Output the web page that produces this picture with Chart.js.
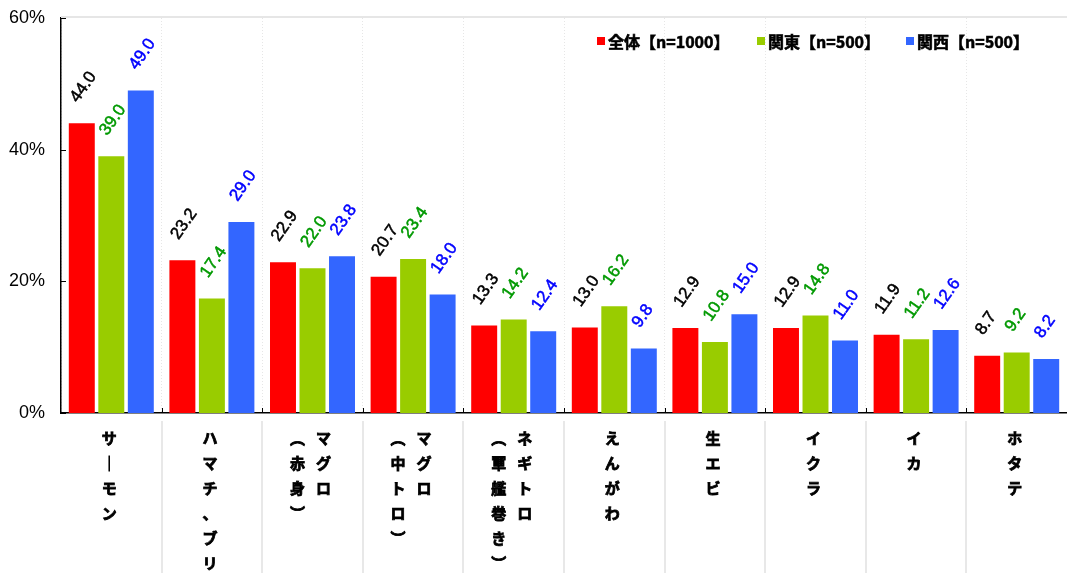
<!DOCTYPE html>
<html>
<head>
<meta charset="utf-8">
<script src="https://cdn.jsdelivr.net/npm/chart.js@4.4.1/dist/chart.umd.min.js"></script>
<style>
  body { margin: 0; background: #fff; }
  #chart { display: block; }
</style>
</head>
<body>
<canvas id="chart" width="1067" height="573"></canvas>
<script>
// カテゴリ（縦書き、列ごと：右の列から）
const categories = [
    ['サーモン'],
    ['ハマチ、ブリ'],
    ['マグロ', '（赤身）'],
    ['マグロ', '（中トロ）'],
    ['ネギトロ', '（軍艦巻き）'],
    ['えんがわ'],
    ['生エビ'],
    ['イクラ'],
    ['イカ'],
    ['ホタテ']
];
const seriesNames = ['全体【n=1000】', '関東【n=500】', '関西【n=500】'];
const zentai = [44.0, 23.2, 22.9, 20.7, 13.3, 13.0, 12.9, 12.9, 11.9, 8.7];
const kanto = [39.0, 17.4, 22.0, 23.4, 14.2, 16.2, 10.8, 14.8, 11.2, 9.2];
const kansai = [49.0, 29.0, 23.8, 18.0, 12.4, 9.8, 15.0, 11.0, 12.6, 8.2];
const yTicks = [0, 20, 40, 60];

const barColors = ['#ff0000', '#99cc00', '#3366ff'];
const labelColors = ['#000000', '#009900', '#0000ff'];
const cjkFont = '"Noto Sans CJK JP", "Noto Sans", sans-serif';

// 縦書き用に括弧などを変換
function toVertical(ch) {
    if (ch === '（') return '︵';
    if (ch === '）') return '︶';
    if (ch === 'ー') return '｜';
    return ch;
}

// 太字を少し強調して描く
function boldText(ctx, text, x, y) {
    ctx.strokeText(text, x, y);
    ctx.fillText(text, x, y);
}

const customDraw = {
    id: 'customDraw',
    afterDraw(chart) {
        const ctx = chart.ctx;
        const area = chart.chartArea;
        const xs = chart.scales.x;
        const ys = chart.scales.y;
        const step = xs.getPixelForValue(1) - xs.getPixelForValue(0);

        ctx.save();
        // 上端の線
        ctx.strokeStyle = '#e6e6e6';
        ctx.lineWidth = 2;
        ctx.beginPath();
        ctx.moveTo(area.left, area.top - 1);
        ctx.lineTo(area.right, area.top - 1);
        ctx.stroke();

        // 軸の目盛り（内向き）
        ctx.strokeStyle = '#000';
        ctx.lineWidth = 1;
        yTicks.forEach(v => {
            const y = Math.round(ys.getPixelForValue(v)) + 0.5;
            ctx.beginPath();
            ctx.moveTo(area.left, y);
            ctx.lineTo(area.left + 5, y);
            ctx.stroke();
        });
        for (let i = 0; i < categories.length - 1; i++) {
            const x = Math.round(xs.getPixelForValue(i) + step / 2) + 0.5;
            ctx.beginPath();
            ctx.moveTo(x, area.bottom);
            ctx.lineTo(x, area.bottom - 5);
            ctx.stroke();
        }

        // カテゴリ区切り線（軸の下）
        ctx.strokeStyle = '#e8e8e8';
        ctx.lineWidth = 2;
        for (let i = 0; i < categories.length - 1; i++) {
            const x = Math.round(xs.getPixelForValue(i) + step / 2);
            ctx.beginPath();
            ctx.moveTo(x, area.bottom + 8);
            ctx.lineTo(x, chart.height);
            ctx.stroke();
        }

        // カテゴリラベル（縦書き）
        ctx.fillStyle = '#000';
        ctx.strokeStyle = '#000';
        ctx.lineWidth = 0.8;
        ctx.font = 'bold 15px ' + cjkFont;
        ctx.textAlign = 'center';
        ctx.textBaseline = 'middle';
        categories.forEach((cols, i) => {
            const cx = xs.getPixelForValue(i) - 2;
            const n = cols.length;
            cols.forEach((col, j) => {
                const x = cx + ((n - 1) / 2 - j) * 26;
                Array.from(col).forEach((ch, k) => {
                    boldText(ctx, toVertical(ch), x, area.bottom + 25 + k * 25);
                });
            });
        });

        // 値ラベル（斜め）
        ctx.font = '17px "Liberation Sans", Arial, sans-serif';
        ctx.textAlign = 'left';
        ctx.textBaseline = 'alphabetic';
        ctx.lineWidth = 0.5;
        chart.data.datasets.forEach((ds, d) => {
            const meta = chart.getDatasetMeta(d);
            ctx.fillStyle = labelColors[d];
            ctx.strokeStyle = labelColors[d];
            meta.data.forEach((bar, i) => {
                ctx.save();
                ctx.translate(bar.x - 4, bar.y - 20);
                ctx.rotate(-55 * Math.PI / 180);
                boldText(ctx, ds.data[i].toFixed(1), 0, 0);
                ctx.restore();
            });
        });

        // 凡例
        const legendX = [597, 757, 906];
        ctx.font = 'bold 16px ' + cjkFont;
        ctx.textBaseline = 'middle';
        ctx.strokeStyle = '#000';
        ctx.lineWidth = 0.6;
        seriesNames.forEach((name, d) => {
            ctx.fillStyle = barColors[d];
            ctx.fillRect(legendX[d], 37, 8, 8);
            ctx.fillStyle = '#000';
            boldText(ctx, name, legendX[d] + 11, 42);
        });
        ctx.restore();
    }
};

new Chart(document.getElementById('chart'), {
    type: 'bar',
    data: {
        labels: categories.map(c => c.join('')),
        datasets: [zentai, kanto, kansai].map((vals, d) => ({
            label: seriesNames[d],
            data: vals,
            backgroundColor: barColors[d],
            borderWidth: 0,
            categoryPercentage: 0.88,
            barPercentage: 0.88
        }))
    },
    options: {
        responsive: false,
        animation: false,
        layout: { padding: { top: 18, right: 0, left: 0, bottom: 0 } },
        plugins: {
            legend: { display: false },
            tooltip: { enabled: false }
        },
        scales: {
            x: {
                grid: { color: '#e6e6e6', drawTicks: false, offset: true },
                border: { color: '#000', width: 1.5, dash: [1, 2] },
                ticks: { display: false },
                afterFit: s => { s.height = 160; }
            },
            y: {
                min: 0,
                max: 60,
                afterBuildTicks: s => { s.ticks = yTicks.map(v => ({ value: v })); },
                grid: { display: false, drawTicks: false },
                border: { color: '#000', width: 1.5 },
                ticks: {
                    color: '#000',
                    padding: 16,
                    font: { family: '"Liberation Sans", Arial, sans-serif', size: 18 },
                    callback: v => v + '%'
                },
                afterFit: s => { s.width = 61; s.paddingTop = 0; s.paddingBottom = 0; }
            }
        }
    },
    plugins: [customDraw]
});
</script>
</body>
</html>
